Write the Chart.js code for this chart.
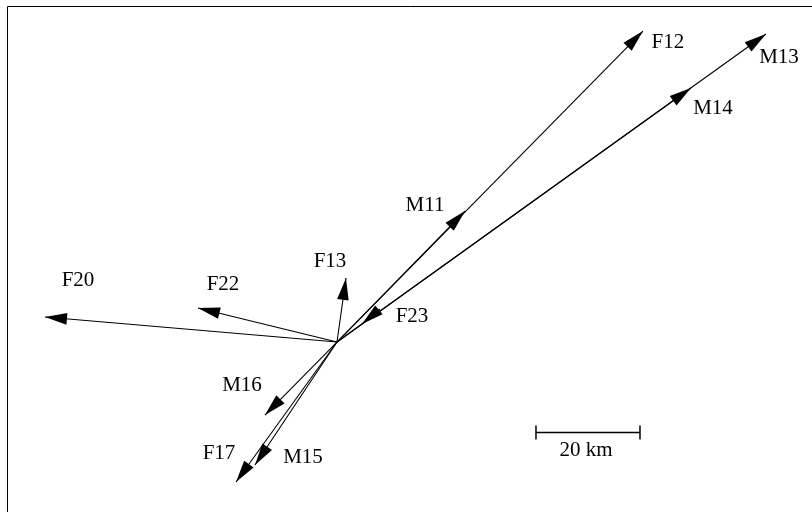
<!DOCTYPE html>
<html>
<head>
<meta charset="utf-8">
<script src="https://cdn.jsdelivr.net/npm/chart.js@4/dist/chart.umd.min.js"></script>
<style>
  html, body { margin: 0; padding: 0; background: #ffffff; }
  #wrap { width: 812px; height: 512px; }
</style>
</head>
<body>
<div id="wrap"><canvas id="c" width="812" height="512"></canvas></div>
<script>
// ---- data (km, relative to common origin) ----
const vectorNames = ["F12", "M13", "M14", "M11", "F13", "F20", "F22", "F23", "M16", "F17", "M15"];
const startX = [0, 0, 0, 0, 0, 0, 0, 8.27, 0, 0, 0];
const startY = [0, 0, 0, 0, 0, 0, 0, 6.35, 0, 0, 0];
const endX   = [58.85, 82.5, 68.08, 24.62, 1.73, -56.15, -26.73, 4.81, -13.85, -19.42, -15.77];
const endY   = [59.81, 59.23, 48.85, 25.19, 12.31, 4.81, 6.54, 3.46, -14.04, -26.92, -23.65];
const labelX = [63.65, 85.0, 72.31, 16.92, -1.35, -49.81, -21.92, 14.42, -18.27, -22.69, -6.54];
const labelY = [57.69, 54.81, 45.0, 26.35, 15.58, 11.92, 11.15, 5.0, -8.27, -21.35, -22.12];
const scaleBarKm = 20;
const scaleBarStart = [38.27, -17.31];
const scaleBarLabel = "20 km";
const scaleBarLabelPos = [47.88, -20.77];
const xRange = [-63.46, 91.35];
const yRange = [-32.69, 64.62];

const datasets = vectorNames.map((n, i) => ({
  label: n,
  data: [{x: startX[i], y: startY[i]}, {x: endX[i], y: endY[i]}],
  showLine: true,
  borderColor: "#000000",
  borderWidth: 1.1,
  pointRadius: 0,
  fill: false
}));

const FONT = '21px "Liberation Serif", "DejaVu Serif", serif';

const arrowPlugin = {
  id: "arrows",
  afterDatasetsDraw(chart) {
    const ctx = chart.ctx;
    const xs = chart.scales.x, ys = chart.scales.y;
    const area = chart.chartArea;
    ctx.save();
    // frame (left & top visible)
    ctx.strokeStyle = "#000000";
    ctx.lineWidth = 1;
    ctx.beginPath();
    ctx.moveTo(area.left + 0.5, area.bottom + 10);
    ctx.lineTo(area.left + 0.5, area.top + 0.5);
    ctx.lineTo(area.right + 10, area.top + 0.5);
    ctx.stroke();

    // arrow heads
    const L = 22, W = 5.8;
    ctx.fillStyle = "#000000";
    chart.data.datasets.forEach((ds, i) => {
      const meta = chart.getDatasetMeta(i);
      const p0 = meta.data[0], p1 = meta.data[1];
      const a = Math.atan2(p1.y - p0.y, p1.x - p0.x);
      const c = Math.cos(a), s = Math.sin(a);
      const bx = p1.x - L * c, by = p1.y - L * s;
      ctx.beginPath();
      ctx.moveTo(p1.x, p1.y);
      ctx.lineTo(bx - W * s, by + W * c);
      ctx.lineTo(bx + W * s, by - W * c);
      ctx.closePath();
      ctx.fill();
    });

    // labels
    ctx.font = FONT;
    ctx.textAlign = "center";
    ctx.textBaseline = "middle";
    vectorNames.forEach((n, i) => {
      ctx.fillText(n, xs.getPixelForValue(labelX[i]), ys.getPixelForValue(labelY[i]));
    });

    // scale bar
    const sx0 = xs.getPixelForValue(scaleBarStart[0]);
    const sx1 = xs.getPixelForValue(scaleBarStart[0] + scaleBarKm);
    const sy = Math.round(ys.getPixelForValue(scaleBarStart[1])) + 0.5;
    ctx.lineWidth = 1.5;
    ctx.beginPath();
    ctx.moveTo(sx0, sy); ctx.lineTo(sx1, sy);
    ctx.moveTo(sx0, sy - 7); ctx.lineTo(sx0, sy + 7);
    ctx.moveTo(sx1, sy - 7); ctx.lineTo(sx1, sy + 7);
    ctx.stroke();
    ctx.fillText(scaleBarLabel, xs.getPixelForValue(scaleBarLabelPos[0]), ys.getPixelForValue(scaleBarLabelPos[1]));
    ctx.restore();
  }
};

new Chart(document.getElementById("c"), {
  type: "scatter",
  data: { datasets },
  options: {
    responsive: false,
    animation: false,
    devicePixelRatio: 1,
    layout: { padding: { left: 7, top: 6, right: 0, bottom: 0 } },
    plugins: { legend: { display: false }, tooltip: { enabled: false } },
    scales: {
      x: { type: "linear", display: false, min: xRange[0], max: xRange[1] },
      y: { type: "linear", display: false, min: yRange[0], max: yRange[1] }
    }
  },
  plugins: [arrowPlugin]
});
</script>
</body>
</html>
